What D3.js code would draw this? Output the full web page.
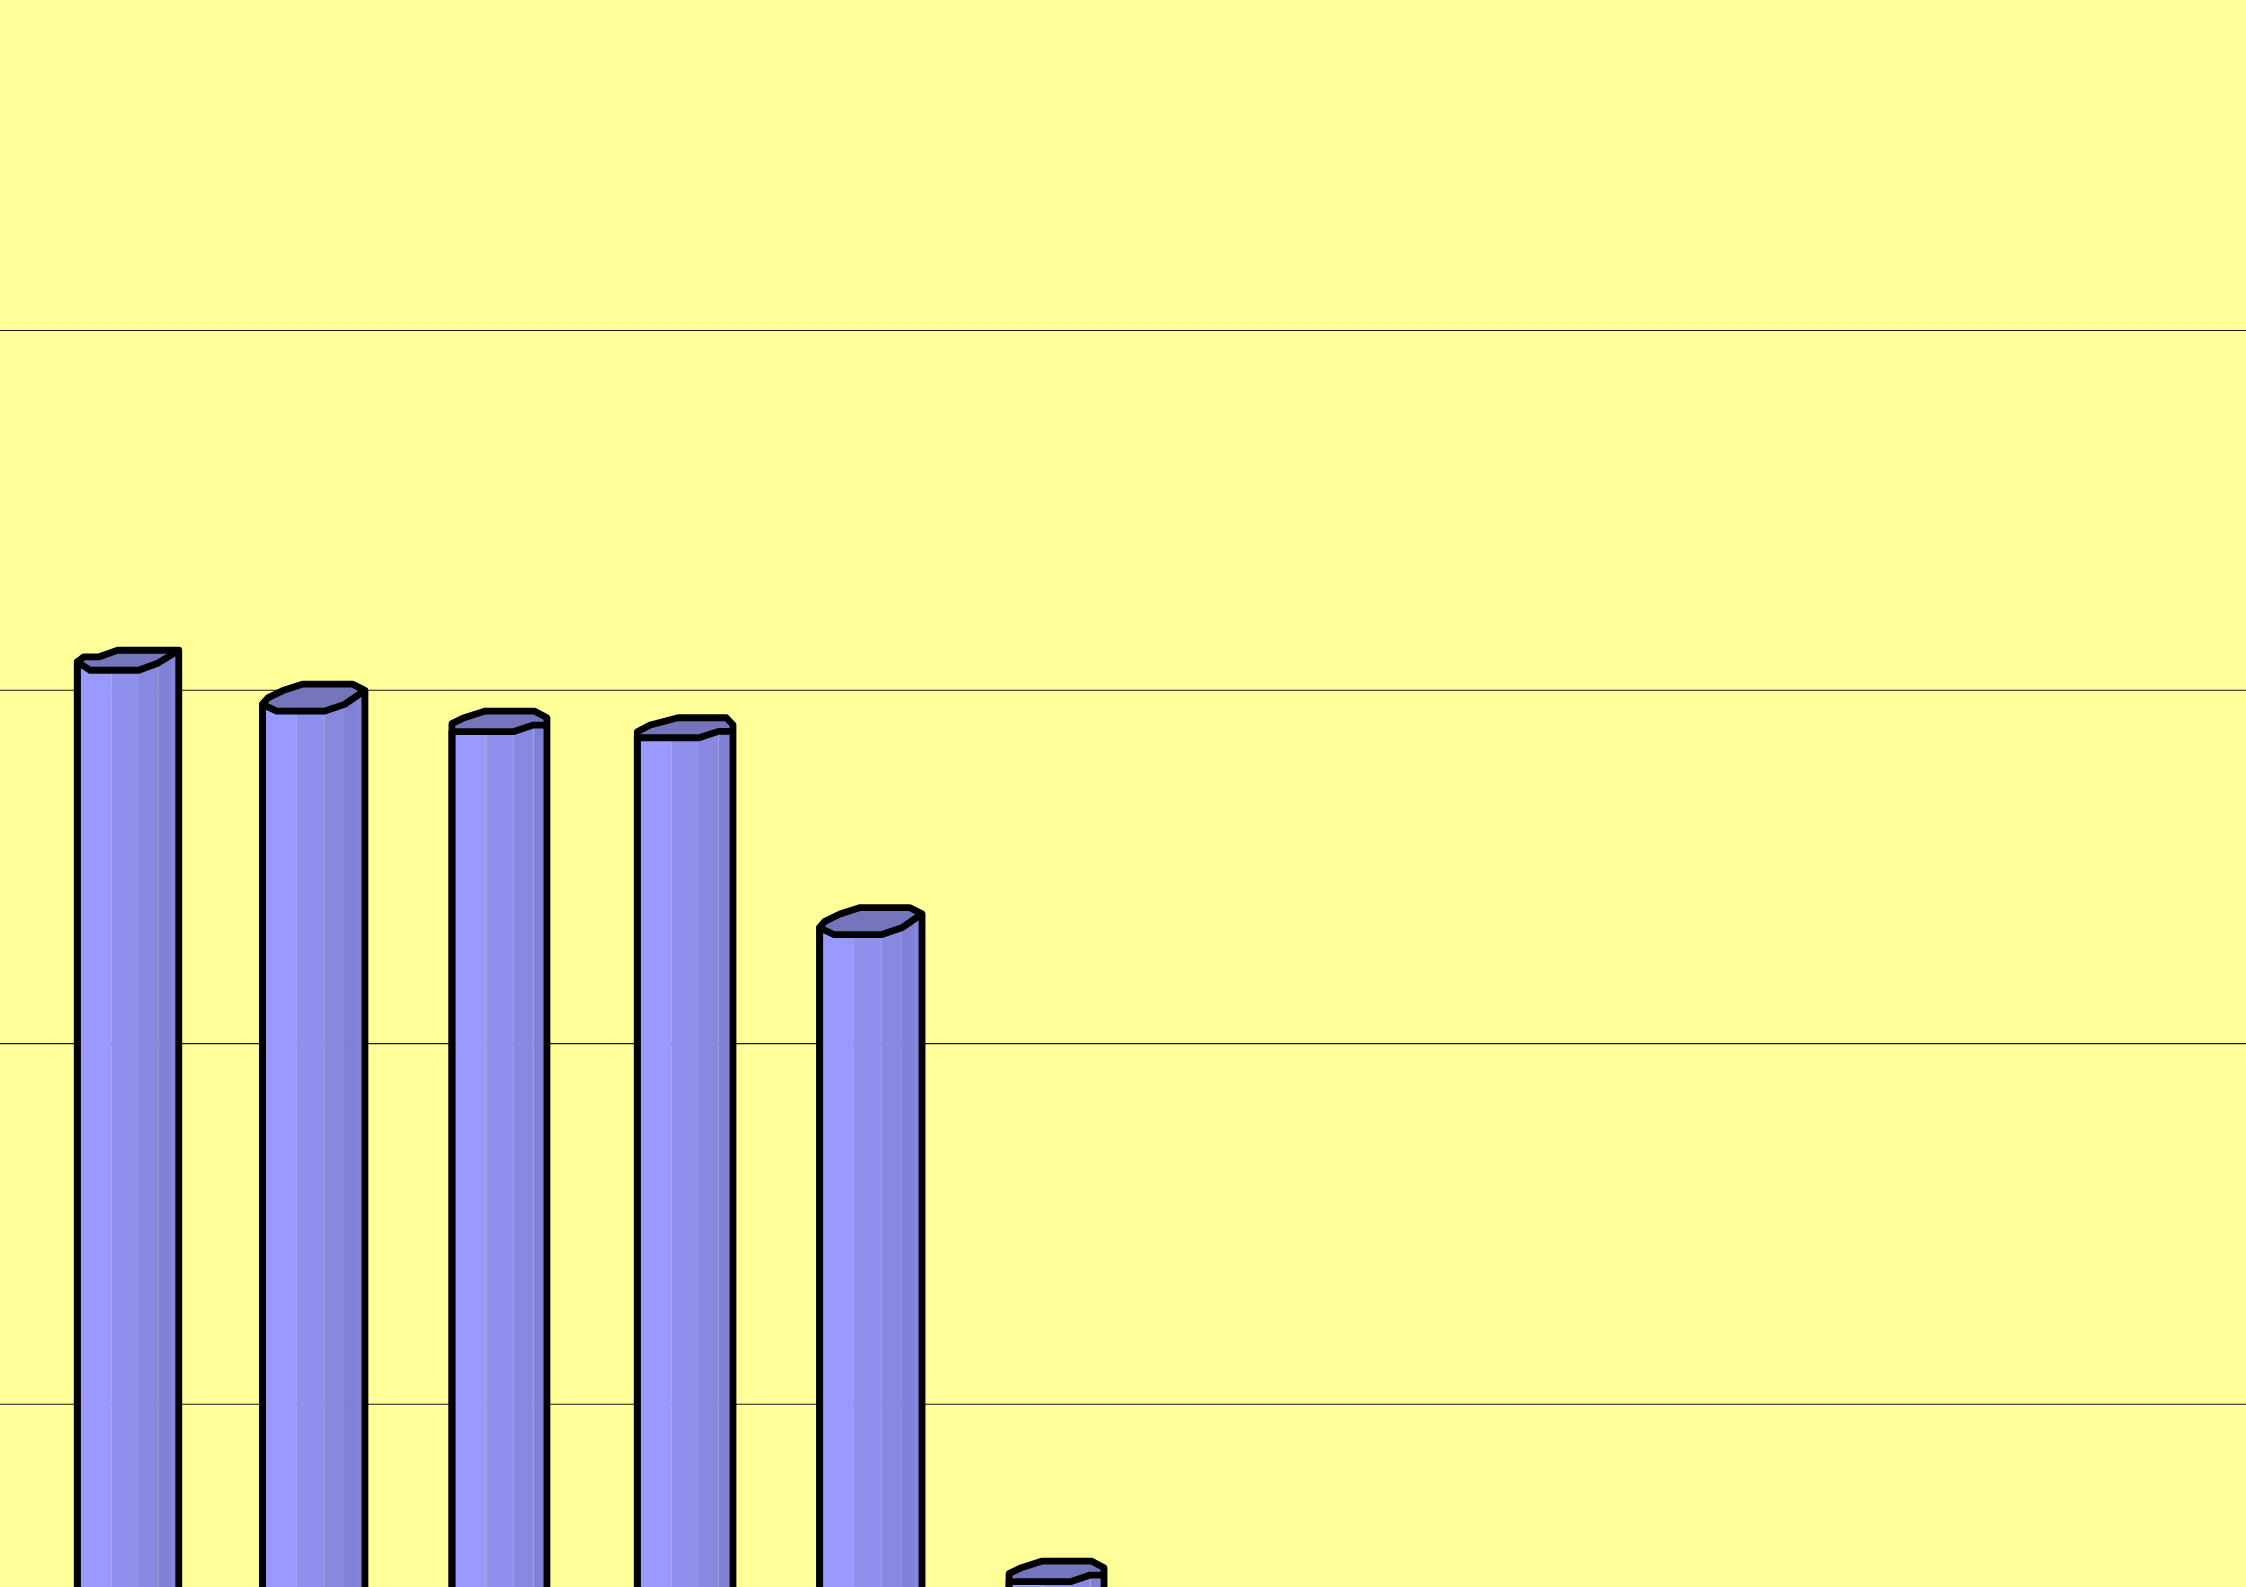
<html>
<head>
	<style>
		body{margin:0;background:#ffff99;overflow:hidden;}
		svg{display:block;}
	</style>
</head>
<body>
	<script src="https://d3js.org/d3.v7.min.js"></script>
	<script>
// values; the axis labels and baseline are cropped away
const categories = ["1","2","3","4","5","6"];
const values = [31.11,30.17,29.41,29.22,23.85,5.65];
const gridValues = [10,20,30,40];

const width = 2246, height = 1587;
const barWidth = 101.5, step = 185.7, startX = 35.2;

// grid lines in the source are not quite evenly spaced, so the scale has one stop per line
const y = d3.scaleLinear()
	.domain(gridValues)
	.range([1404.2,1043.6,690.2,330.5]);

const x = d3.scaleBand()
	.domain(categories)
	.range([startX, startX + step * categories.length])
	.paddingInner(1 - barWidth / step)
	.paddingOuter((1 - barWidth / step) / 2);

// shades of the cylinder, left to right, and where each shade starts
const bandColors = ["#9999ff","#8f8fee","#8888e0","#8080d6"];
const bandStarts = [0,34.3,61.7,81.5];

// the cap polygon changes a little from bar to bar in the source
const capShapes = {
	notch:{w:101.5, outline:[[0,11.7],[6.3,6.7],[21.3,6.7],[40.3,0],[101.5,0]], front:[[0,11.7],[13,20],[61.3,20],[81,12.7],[101.5,0]], seams:[13.4,95]},
	wide:{w:102.4, outline:[[0,19.8],[5.3,13.8],[20.3,6.5],[40.6,0],[89.8,0],[102.4,6.3]], front:[[0,20.3],[14.2,27],[62.3,27],[82,20.3],[102.4,6.3]], seams:[95.7]},
	flatA:{w:95, outline:[[0,12.6],[12.3,6.6],[33.3,0],[82.3,0],[95,6.6]], front:[[0,20.6],[61.3,20.6],[81.3,14],[95,14]], seams:[81.3]},
	flatB:{w:95.7, outline:[[0,14],[13,7.3],[40.7,0],[89,0],[95.7,7]], front:[[0,20],[61.7,20],[81.3,13.6],[95.7,13.6]], seams:[81.3]}
};
const capOf = {"1":"notch","2":"wide","3":"flatA","4":"flatB","5":"wide","6":"flatA"};

var svg = d3.select("body")
	.append("svg")
	.attr("width", width)
	.attr("height", height);

svg.append("rect")
	.attr("width", width)
	.attr("height", height)
	.attr("fill", "#ffff99");

let grid = svg.append("g")
	.call(d3.axisRight(y).tickValues(gridValues).tickSize(width).tickFormat("").offset(0));
grid.select(".domain").remove();
grid.selectAll("line")
	.attr("stroke", "#1a1a14")
	.attr("stroke-width", 1.1);

let line = d3.line();
let bottom = y(0);

let bars = svg.selectAll(".bar")
	.data(categories)
	.enter()
	.append("g")
	.classed("bar", true)
	.attr("transform", (d,i) => {
		let s = capShapes[capOf[d]];
		return `translate(${x(d) + x.bandwidth() / 2 - s.w / 2},${y(values[i])})`;
	});

bars.each(function(d,i){
	let s = capShapes[capOf[d]];
	let g = d3.select(this);
	let h = bottom - y(values[i]);
	let lastFront = s.front[s.front.length - 1];

	// everything under the front edge of the cap
	let body = [...s.front, [s.w,h], [0,h]];
	g.append("clipPath").attr("id", "body" + i)
		.append("path").attr("d", line(body) + "Z");
	let inner = g.append("g").attr("clip-path", `url(#body${i})`);
	inner.selectAll("rect")
		.data(bandStarts)
		.enter()
		.append("rect")
		.attr("x", b => b)
		.attr("y", 0)
		.attr("width", (b,j) => (j < bandStarts.length - 1 ? bandStarts[j + 1] : s.w) - b)
		.attr("height", h)
		.attr("fill", (b,j) => bandColors[j]);
	inner.selectAll("line")
		.data(s.seams)
		.enter()
		.append("line")
		.attr("x1", b => b)
		.attr("x2", b => b)
		.attr("y1", 0)
		.attr("y2", h)
		.attr("stroke", "#a9a9ee")
		.attr("stroke-opacity", 0.45)
		.attr("stroke-width", 1);

	// cap: the outline over the top, back along the front edge
	let cap = [...s.outline, lastFront, ...s.front.slice().reverse()];
	g.append("path")
		.attr("d", line(cap) + "Z")
		.attr("fill", "#7575bb");

	let outline = [[0,h], ...s.outline, lastFront, [s.w,h]];
	[outline, [[0,h], ...s.front]].forEach(p => {
		g.append("path")
			.attr("d", line(p))
			.attr("fill", "none")
			.attr("stroke", "#000")
			.attr("stroke-width", 6.8)
			.attr("stroke-linejoin", "round");
	});
});
	</script>
</body>
</html>
